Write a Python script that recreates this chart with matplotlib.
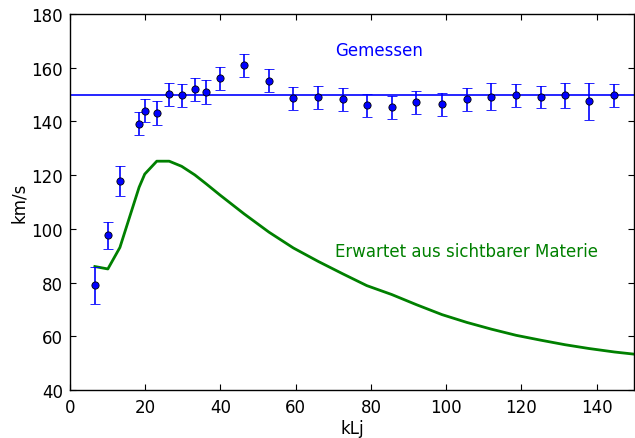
import matplotlib
matplotlib.use("Agg")
import matplotlib.pyplot as plt
import numpy as np

# Abstand in kLj, gemessene Rotationsgeschwindigkeit und Fehler (km/s)
radius = [6.65, 10.1, 13.3, 18.4, 19.9, 23.1, 26.4, 29.7, 33.2, 36.2, 39.9, 46.3,
          52.9, 59.4, 66.0, 72.5, 78.9, 85.5, 92.1, 98.9, 105.5, 112.0, 118.6,
          125.1, 131.6, 137.9, 144.7]
v_meas = [79.0, 97.7, 117.8, 139.2, 144.0, 143.1, 150.1, 149.7, 152.0, 151.0, 156.1,
          160.9, 155.2, 148.6, 149.1, 148.2, 146.1, 145.3, 147.1, 146.4, 148.2,
          149.1, 149.7, 149.1, 149.8, 147.5, 149.7]
v_err_lo = [7.0, 5.2, 5.6, 4.2, 4.3, 4.6, 4.4, 4.3, 4.4, 4.5, 4.3, 4.2,
            4.2, 4.3, 4.5, 4.3, 4.3, 4.3, 4.3, 4.5, 4.3, 5.0, 4.3, 4.2, 4.7, 7.0, 4.4]
v_err_hi = [7.0, 4.9, 5.6, 4.2, 4.2, 4.5, 4.3, 4.2, 4.2, 4.3, 4.2, 4.2,
            4.2, 4.1, 4.1, 4.3, 4.2, 4.3, 4.2, 4.2, 4.3, 5.1, 4.2, 4.2, 4.6, 6.9, 4.1]
v_flat = 150.0

# Erwartete Kurve aus der sichtbaren Materie
radius_exp = radius + [151.2]
v_exp = [86.0, 85.1, 93.1, 115.5, 120.4, 125.2, 125.2, 123.3, 120.1, 116.8, 112.6,
         105.6, 98.8, 92.9, 87.9, 83.3, 78.9, 75.6, 71.8, 68.1, 65.2, 62.7, 60.4,
         58.6, 56.9, 55.5, 54.2, 53.2]

plt.rcParams["font.family"] = "DejaVu Sans"
plt.rcParams["xtick.direction"] = "in"
plt.rcParams["ytick.direction"] = "in"
plt.rcParams["xtick.top"] = True
plt.rcParams["ytick.right"] = True

fig = plt.figure(figsize=(6.35, 4.39), dpi=100)
ax = fig.add_axes([0.110, 0.109, 0.889, 0.857])

ax.axhline(v_flat, color="blue", linewidth=1.2, zorder=2)
ax.plot(radius_exp, v_exp, color="green", linewidth=2.0, zorder=2)
ax.errorbar(radius, v_meas, yerr=[v_err_lo, v_err_hi], fmt="o", color="blue",
            markerfacecolor="blue", markeredgecolor="black", markeredgewidth=0.6,
            markersize=5.2, ecolor="blue", elinewidth=1.2, capsize=3.6,
            capthick=1.2, zorder=3)

ax.text(70.5, 166.5, "Gemessen", color="blue", fontsize=12, va="center", ha="left")
ax.text(70.5, 91.8, "Erwartet aus sichtbarer Materie", color="green", fontsize=12,
        va="center", ha="left")

ax.set_xlim(0, 150)
ax.set_ylim(40, 180)
ax.set_xticks(np.arange(0, 141, 20))
ax.set_yticks(np.arange(40, 181, 20))
ax.tick_params(labelsize=12, length=4, width=0.8)
ax.tick_params(axis="x", pad=6)
ax.tick_params(axis="y", pad=5)
for spine in ax.spines.values():
    spine.set_linewidth(1.0)
ax.set_xlabel("kLj", fontsize=12, labelpad=2)
ax.set_ylabel("km/s", fontsize=12, labelpad=2)

fig.savefig("out.png", dpi=100)
